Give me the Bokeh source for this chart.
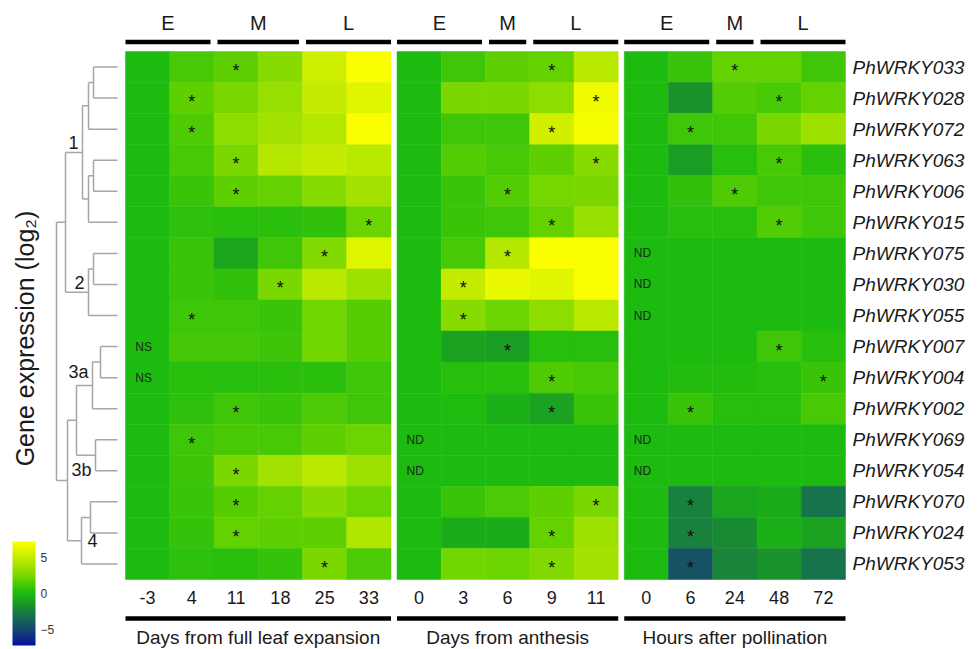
import numpy as np
from bokeh.plotting import figure
from bokeh.models import ColumnDataSource, Range1d, LinearColorMapper, ColorBar, FixedTicker
from bokeh.transform import transform
from bokeh.core.properties import value
from bokeh.embed import file_html
from bokeh.resources import INLINE

# ---------------- data ----------------
genes = ["PhWRKY033", "PhWRKY028", "PhWRKY072", "PhWRKY063", "PhWRKY006", "PhWRKY015",
         "PhWRKY075", "PhWRKY030", "PhWRKY055", "PhWRKY007", "PhWRKY004", "PhWRKY002",
         "PhWRKY069", "PhWRKY054", "PhWRKY070", "PhWRKY024", "PhWRKY053"]

leaf_days = ["-3", "4", "11", "18", "25", "33"]
flower_days = ["0", "3", "6", "9", "11"]
poll_hours = ["0", "6", "24", "48", "72"]

leaf_vals = [
    [0, 1.2, 1.8, 3.0, 5.3, 7.0],
    [0, 1.8, 2.6, 3.4, 5.0, 6.0],
    [0, 1.4, 3.2, 3.8, 4.3, 7.0],
    [0, 1.2, 2.6, 4.4, 5.0, 4.6],
    [0, 0.8, 1.8, 2.0, 3.0, 3.8],
    [0, 0.5, 0.4, 0.4, 0.6, 2.2],
    [0, 0.8, -0.8, 1.0, 2.8, 6.0],
    [0, 0.8, 0.6, 2.6, 4.6, 3.6],
    [0, 1.0, 1.0, 0.8, 2.4, 1.6],
    [0, 1.1, 1.1, 0.9, 2.4, 1.6],
    [0, 0.4, 0.3, 0.4, 0.4, 1.0],
    [0, 0.5, 1.0, 0.8, 1.3, 1.0],
    [0, 1.0, 1.2, 1.2, 1.8, 2.2],
    [0, 0.9, 2.6, 3.8, 4.6, 3.6],
    [0, 0.8, 1.6, 2.0, 3.0, 2.2],
    [0, 0.7, 2.0, 1.8, 1.8, 4.2],
    [0, 0.5, 0.4, 0.7, 2.6, 1.3],
]
flower_vals = [
    [0, 1.0, 1.8, 2.0, 4.6],
    [0, 2.6, 2.6, 3.2, 6.6],
    [0, 1.0, 1.0, 5.4, 6.8],
    [0, 1.5, 1.2, 1.8, 3.0],
    [0, 0.8, 1.5, 2.5, 2.6],
    [0, 0.8, 1.0, 2.0, 3.4],
    [0, 1.2, 4.4, 7.0, 7.0],
    [0, 5.0, 6.4, 6.0, 7.0],
    [0, 3.0, 2.2, 3.2, 4.6],
    [0, -1.0, -1.2, 0.3, 0.3],
    [0, 0.3, 0.4, 1.4, 1.2],
    [0, 0.1, -0.4, -1.0, 0.8],
    [0, 0, 0, 0, 0],
    [0, 0, 0, 0, 0],
    [0, 0.8, 1.3, 1.8, 2.6],
    [0, -0.6, -0.6, 2.0, 3.6],
    [0, 2.4, 2.2, 2.8, 3.8],
]
poll_vals = [
    [0, 0.8, 2.0, 2.0, 1.0],
    [0, -1.6, 1.5, 1.2, 2.0],
    [0, 1.0, 1.0, 2.6, 3.6],
    [0, -1.2, 0.3, 1.2, 0.4],
    [0, 0.6, 1.4, 1.0, 1.0],
    [0, 0.3, 0.3, 1.5, 1.0],
    [0, 0, 0, 0, 0],
    [0, 0, 0, 0, 0],
    [0, 0, 0, 0, 0],
    [0, 0, 0, 1.0, 0.3],
    [0, 0.2, 0.2, 0.3, 0.8],
    [0, 0.8, 0.3, 0.3, 1.2],
    [0, 0, 0, 0, 0],
    [0, 0, 0, 0, 0],
    [0, -2.4, -0.9, -0.6, -3.0],
    [0, -2.4, -2.0, -0.4, -1.0],
    [0, -4.4, -2.2, -1.6, -3.0],
]

# significant cells (gene row, column)
leaf_sig = [(0, 2), (1, 1), (2, 1), (3, 2), (4, 2), (5, 5), (6, 4), (7, 3), (8, 1),
            (11, 2), (12, 1), (13, 2), (14, 2), (15, 2), (16, 4)]
flower_sig = [(0, 3), (1, 4), (2, 3), (3, 4), (4, 2), (5, 3), (6, 2), (7, 1), (8, 1),
              (9, 2), (10, 3), (11, 3), (14, 4), (15, 3), (16, 3)]
poll_sig = [(0, 2), (1, 3), (2, 1), (3, 3), (4, 2), (5, 3), (9, 3), (10, 4), (11, 1),
            (14, 1), (15, 1), (16, 1)]

leaf_notes = {9: "NS", 10: "NS"}
flower_notes = {12: "ND", 13: "ND"}
poll_notes = {6: "ND", 7: "ND", 8: "ND", 12: "ND", 13: "ND"}

leaf_stages = [("E", 0, 1), ("M", 2, 3), ("L", 4, 5)]
flower_stages = [("E", 0, 1), ("M", 2, 2), ("L", 3, 4)]
poll_stages = [("E", 0, 1), ("M", 2, 2), ("L", 3, 4)]

panel_titles = ["Days from full leaf expansion", "Days from anthesis", "Hours after pollination"]

# dendrogram merges: (left, right, height); ids >= 17 are earlier merges
merges = [
    (0, 1, 24), (17, 2, 29), (3, 4, 24), (19, 5, 29), (18, 20, 35),
    (6, 7, 24), (22, 8, 29), (21, 23, 52),
    (9, 10, 17), (25, 11, 25), (12, 13, 22), (26, 27, 41),
    (14, 15, 27), (29, 16, 36), (28, 30, 50), (24, 31, 61),
]
cluster_labels = [("1", 21, "above"), ("2", 23, "above"), ("3a", 26, "above"),
                  ("3b", 27, "below"), ("4", 30, "right")]

y_title = "Gene expression (log\u2082)"

# ---------------- layout ----------------
FONT = "Liberation Sans"
TXT = "#1a1a1a"
W, H = 979, 649
CW, RH = 44.25, 31.06
X0, Y0 = 125, 51
GAP = 6 / CW


def dx(px):
    return px / CW


def dy(px):
    return px / RH


panels = [
    dict(cols=leaf_days, vals=leaf_vals, sig=leaf_sig, notes=leaf_notes, stages=leaf_stages, title=panel_titles[0]),
    dict(cols=flower_days, vals=flower_vals, sig=flower_sig, notes=flower_notes, stages=flower_stages, title=panel_titles[1]),
    dict(cols=poll_hours, vals=poll_vals, sig=poll_sig, notes=poll_notes, stages=poll_stages, title=panel_titles[2]),
]
off = 0.0
for pan in panels:
    pan["x0"] = off
    off += len(pan["cols"]) + GAP

p = figure(width=W, height=H,
           x_range=Range1d(-dx(X0), dx(W - X0)),
           y_range=Range1d(dy(H - Y0), -dy(Y0)),
           x_axis_type=None, y_axis_type=None,
           toolbar_location=None, output_backend="svg", min_border=0)
p.outline_line_color = None
p.grid.grid_line_color = None

# palette
anchors = [(-7.2, (8, 16, 160)), (-5, (20, 70, 110)), (-3, (22, 115, 75)), (-1.5, (26, 150, 40)),
           (0, (28, 186, 16)), (2, (100, 210, 0)), (4, (170, 228, 0)), (5.5, (210, 240, 0)),
           (7.2, (255, 255, 0))]
av = [a[0] for a in anchors]
palette = []
for v in np.linspace(-7.2, 7.2, 256):
    rgb = [int(round(np.interp(v, av, [a[1][k] for a in anchors]))) for k in range(3)]
    palette.append("#%02x%02x%02x" % tuple(rgb))
mapper = LinearColorMapper(palette=palette, low=-7.2, high=7.2)

# cells
xs, ys, vv = [], [], []
for pan in panels:
    for i, row in enumerate(pan["vals"]):
        for j, v in enumerate(row):
            xs.append(pan["x0"] + j + 0.5)
            ys.append(i + 0.5)
            vv.append(v)
src = ColumnDataSource(dict(x=xs, y=ys, v=vv))
p.rect("x", "y", width=1, height=1, source=src, fill_color=transform("v", mapper),
       line_color=transform("v", mapper), line_width=0.5)

# stars
sx = [pan["x0"] + c + 0.5 for pan in panels for (r, c) in pan["sig"]]
sy = [r + 0.5 for pan in panels for (r, c) in pan["sig"]]
p.text(x=sx, y=sy, text=["*"] * len(sx), text_align="center", text_baseline="middle",
       y_offset=4, text_font=value(FONT), text_font_size="18px", text_color="#111111")

# notes
nx, ny, nt = [], [], []
for pan in panels:
    for r, t in pan["notes"].items():
        nx.append(pan["x0"] + 0.5 - dx(4)); ny.append(r + 0.5); nt.append(t)
p.text(x=nx, y=ny, text=nt, text_align="center", text_baseline="middle",
       text_font=value(FONT), text_font_size="12px", text_color="#1a2a1a")

# stage bars and labels
bx0, bx1, lx, lt = [], [], [], []
for pan in panels:
    n = len(pan["cols"])
    for lab, a, b in pan["stages"]:
        left = pan["x0"] + a + (dx(3.5) if a > 0 else 0)
        right = pan["x0"] + b + 1 - (dx(3.5) if b < n - 1 else 0)
        bx0.append(left); bx1.append(right)
        lx.append((left + right) / 2); lt.append(lab)
ybar = dy(41.5 - Y0)
p.segment(x0=bx0, y0=[ybar] * len(bx0), x1=bx1, y1=[ybar] * len(bx0), line_color="black",
          line_width=4.5, line_cap="butt")
p.text(x=lx, y=[dy(22 - Y0)] * len(lx), text=lt, text_align="center", text_baseline="middle",
       text_font=value(FONT), text_font_size="20px", text_color=TXT)

# tick labels, bottom bars, titles
tx, tt = [], []
for pan in panels:
    for j, c in enumerate(pan["cols"]):
        tx.append(pan["x0"] + j + 0.5); tt.append(c)
p.text(x=tx, y=[dy(597 - Y0)] * len(tx), text=tt, text_align="center", text_baseline="middle",
       text_font=value(FONT), text_font_size="18px", text_color=TXT)
ybb = dy(618 - Y0)
p.segment(x0=[pan["x0"] for pan in panels], y0=[ybb] * 3,
          x1=[pan["x0"] + len(pan["cols"]) for pan in panels], y1=[ybb] * 3,
          line_color="black", line_width=4.5, line_cap="butt")
p.text(x=[pan["x0"] + len(pan["cols"]) / 2 for pan in panels], y=[dy(637 - Y0)] * 3,
       text=[pan["title"] for pan in panels], text_align="center", text_baseline="middle",
       text_font=value(FONT), text_font_size="19px", text_color=TXT)

# gene labels
gx = panels[-1]["x0"] + len(panels[-1]["cols"]) + dx(7)
p.text(x=[gx] * len(genes), y=[i + 0.5 for i in range(len(genes))], text=genes,
       text_align="left", text_baseline="middle", text_font=value(FONT),
       text_font_size="19px", text_font_style="italic", text_color=TXT)

# dendrogram
node_y = {i: i + 0.5 for i in range(len(genes))}
node_h = {i: 0 for i in range(len(genes))}


def hx(h):
    return -dx(8 + h)


seg = dict(x0=[], y0=[], x1=[], y1=[])
for k, (a, b, h) in enumerate(merges):
    nid = len(genes) + k
    node_y[nid] = (node_y[a] + node_y[b]) / 2
    node_h[nid] = h
    for c in (a, b):
        seg["x0"].append(hx(node_h[c])); seg["y0"].append(node_y[c])
        seg["x1"].append(hx(h)); seg["y1"].append(node_y[c])
    seg["x0"].append(hx(h)); seg["y0"].append(node_y[a])
    seg["x1"].append(hx(h)); seg["y1"].append(node_y[b])
p.segment(x0="x0", y0="y0", x1="x1", y1="y1", source=ColumnDataSource(seg),
          line_color="#a6a6a6", line_width=1.5)

for lab, nid, pos in cluster_labels:
    x, y = hx(node_h[nid]), node_y[nid]
    if pos == "above":
        kw = dict(x=[x - dx(4)], y=[y - dy(3)], text_align="right", text_baseline="bottom")
    elif pos == "below":
        kw = dict(x=[x - dx(4)], y=[y + dy(5)], text_align="right", text_baseline="top")
    else:
        kw = dict(x=[x + dx(6)], y=[y], text_align="left", text_baseline="middle")
    p.text(text=[lab], text_font=value(FONT), text_font_size="18px", text_color=TXT, **kw)

# y title
p.text(x=[dx(24 - X0)], y=[dy(338 - Y0)], text=[y_title], angle=np.pi / 2,
       text_align="center", text_baseline="middle", text_font=value(FONT),
       text_font_size="25px", text_color=TXT)

# colour bar
cb = ColorBar(color_mapper=mapper, location=(12, 4), width=23, height=104, padding=0, margin=0,
              ticker=FixedTicker(ticks=[-5, 0, 5]), major_tick_line_color=None,
              major_label_text_font=FONT, major_label_text_font_size="12px",
              major_label_text_color="#333333", label_standoff=5, bar_line_color=None,
              background_fill_alpha=0, border_line_color=None)
p.add_layout(cb, "center")

open("out.html", "w").write(file_html(p, INLINE))
